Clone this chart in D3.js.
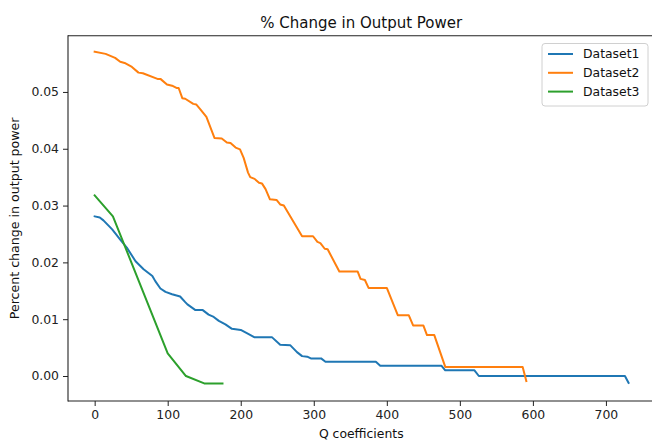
<!DOCTYPE html>
<html>
<head>
<meta charset="utf-8">
<script src="https://cdn.jsdelivr.net/npm/d3@7"></script>
<style>
  html, body { margin: 0; padding: 0; background: #fff; }
  svg { display: block; font-family: "DejaVu Sans", sans-serif; }
</style>
</head>
<body>
<svg id="chart" width="652" height="442"></svg>
<script>
// Dataset1: [Q coefficient, percent change]
const dataset1 = [
  [0, 0.0281], [7, 0.0279], [12, 0.0274], [24, 0.0258], [35, 0.0240], [44, 0.0226],
  [56, 0.0202], [67, 0.0188], [79, 0.0176], [83, 0.0167], [90, 0.0154], [97, 0.0148],
  [106, 0.0144], [117, 0.0140], [124, 0.0130], [127, 0.0126], [138, 0.0116], [148, 0.0116],
  [156, 0.0108], [163, 0.0104], [170, 0.0097], [179, 0.0091], [188, 0.0083], [200, 0.0081],
  [209, 0.0075], [219, 0.0068], [243, 0.0068], [254, 0.0055], [268, 0.0054], [277, 0.0042],
  [284, 0.0035], [291, 0.0034], [296, 0.0031], [310, 0.0031], [316, 0.0025], [385, 0.0025],
  [391, 0.0018], [475, 0.0018], [480, 0.0010], [520, 0.0010], [526, 0.0000], [726, 0.0000],
  [731, -0.0012]
];

// Dataset2
const dataset2 = [
  [0, 0.0571], [15, 0.0567], [28, 0.0560], [35, 0.0553], [41, 0.0551], [51, 0.0544],
  [60, 0.0534], [66, 0.0533], [86, 0.0523], [90, 0.0523], [99, 0.0513], [106, 0.0511],
  [112, 0.0507], [115, 0.0507], [120, 0.0489], [124, 0.0488], [135, 0.0479], [139, 0.0478],
  [145, 0.0469], [153, 0.0456], [164, 0.0419], [174, 0.0418], [181, 0.0411], [186, 0.0410],
  [193, 0.0402], [199, 0.0399], [204, 0.0384], [210, 0.0358], [213, 0.0350], [219, 0.0347],
  [225, 0.0340], [229, 0.0339], [234, 0.0329], [240, 0.0311], [249, 0.0310], [254, 0.0302],
  [259, 0.0300], [284, 0.0246], [299, 0.0246], [305, 0.0236], [309, 0.0234], [315, 0.0224],
  [319, 0.0223], [335, 0.0184], [360, 0.0184], [364, 0.0171], [370, 0.0169], [375, 0.0155],
  [400, 0.0155], [415, 0.0107], [430, 0.0107], [436, 0.0089], [450, 0.0089], [455, 0.0072],
  [465, 0.0072], [480, 0.0016], [586, 0.0016], [591, -0.0009]
];

// Dataset3
const dataset3 = [
  [0, 0.0318], [25, 0.0281], [100, 0.0040], [125, 0.0000], [150, -0.0013], [175, -0.0013]
];

const seriesNames = ["Dataset1", "Dataset2", "Dataset3"];
const seriesColors = ["#1f77b4", "#ff7f0e", "#2ca02c"];
const xTicks = [0, 100, 200, 300, 400, 500, 600, 700];
const yTicks = [0.00, 0.01, 0.02, 0.03, 0.04, 0.05];

const titleText = "% Change in Output Power";
const xLabelText = "Q coefficients";
const yLabelText = "Percent change in output power";

const svg = d3.select("#chart");
const plot = { left: 68, right: 654.5, top: 35.7, bottom: 401 };

const x = d3.scaleLinear().domain([-36.5, 766.5]).range([plot.left, plot.right]);
const y = d3.scaleLinear().domain([-0.0044, 0.0599]).range([plot.bottom, plot.top]);

// clip lines to the axes box
svg.append("defs").append("clipPath").attr("id", "clip")
  .append("rect")
  .attr("x", plot.left).attr("y", plot.top)
  .attr("width", plot.right - plot.left).attr("height", plot.bottom - plot.top);

// series lines
const line = d3.line().x(d => x(d[0])).y(d => y(d[1]));
const allSeries = [dataset1, dataset2, dataset3];
svg.append("g").attr("clip-path", "url(#clip)")
  .selectAll("path")
  .data(allSeries)
  .join("path")
  .attr("d", line)
  .attr("fill", "none")
  .attr("stroke", (d, i) => seriesColors[i])
  .attr("stroke-width", 2)
  .attr("stroke-linejoin", "round")
  .attr("stroke-linecap", "square");

// axes
const xAxis = d3.axisBottom(x).tickValues(xTicks).tickFormat(d3.format("d"))
  .tickSize(5).tickPadding(4);
const yAxis = d3.axisLeft(y).tickValues(yTicks).tickFormat(d3.format(".2f"))
  .tickSize(5).tickPadding(4);

const gx = svg.append("g").attr("transform", `translate(0,${plot.bottom})`).call(xAxis);
const gy = svg.append("g").attr("transform", `translate(${plot.left},0)`).call(yAxis);

[gx, gy].forEach(g => {
  g.select(".domain").remove();
  g.selectAll(".tick line").attr("stroke", "#222").attr("stroke-width", 1);
  g.selectAll(".tick text").attr("fill", "#222").style("font-size", "12.4px")
    .style("font-family", "'DejaVu Sans', sans-serif");
});

// spines: top, left and bottom (the right one lies past the canvas edge)
const spine = svg.append("g").attr("stroke", "#222").attr("stroke-width", 1.1);
spine.append("line").attr("x1", plot.left).attr("x2", plot.right)
  .attr("y1", plot.top).attr("y2", plot.top);
spine.append("line").attr("x1", plot.left).attr("x2", plot.right)
  .attr("y1", plot.bottom).attr("y2", plot.bottom);
spine.append("line").attr("x1", plot.left).attr("x2", plot.left)
  .attr("y1", plot.top - 0.55).attr("y2", plot.bottom + 0.55);

// title and axis labels
svg.append("text")
  .attr("x", (plot.left + plot.right) / 2).attr("y", 27.5)
  .attr("text-anchor", "middle").attr("fill", "#111")
  .style("font-size", "15px")
  .text(titleText);

svg.append("text")
  .attr("x", (plot.left + plot.right) / 2).attr("y", 438)
  .attr("text-anchor", "middle").attr("fill", "#111")
  .style("font-size", "12.4px")
  .text(xLabelText);

svg.append("text")
  .attr("transform", `translate(19,${(plot.top + plot.bottom) / 2}) rotate(-90)`)
  .attr("text-anchor", "middle").attr("fill", "#111")
  .style("font-size", "12.6px")
  .text(yLabelText);

// legend
const legend = svg.append("g").attr("transform", "translate(542,43.5)");
legend.append("rect")
  .attr("width", 106).attr("height", 62.5)
  .attr("rx", 3).attr("ry", 3)
  .attr("fill", "#fff").attr("fill-opacity", 0.8)
  .attr("stroke", "#d0d0d0").attr("stroke-width", 1);

const entries = legend.selectAll("g.entry")
  .data(seriesNames)
  .join("g")
  .attr("class", "entry")
  .attr("transform", (d, i) => `translate(0,${10.5 + i * 18.8})`);

entries.append("line")
  .attr("x1", 6).attr("x2", 31)
  .attr("stroke", (d, i) => seriesColors[i])
  .attr("stroke-width", 2);

entries.append("text")
  .attr("x", 41).attr("y", 0).attr("dy", "0.35em")
  .attr("fill", "#111")
  .style("font-size", "12.4px")
  .text(d => d);
</script>
</body>
</html>
